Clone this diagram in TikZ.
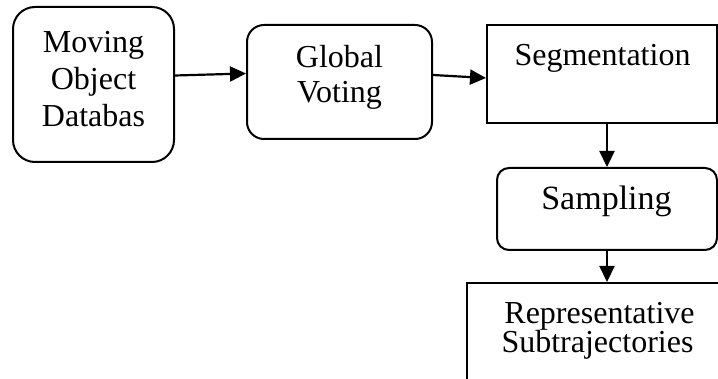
\documentclass[tikz,border=0pt]{standalone}
\usepackage{fontspec}
\setmainfont{Liberation Serif}
\usetikzlibrary{arrows.meta}
\begin{document}
\begin{tikzpicture}[x=1pt,y=-1pt,
  boxline/.style={draw=black,line width=2pt,inner sep=0pt},
  rbox/.style={boxline,rounded corners=#1},
  txt/.style={anchor=base,inner sep=0pt,font=\fontsize{32}{37}\selectfont},
  conn/.style={line width=2.2pt,-{Triangle[length=16pt,width=15pt]}}]
\useasboundingbox (0,0) rectangle (718,379);
\clip (0,0) rectangle (718,379);
% boxes
\node[rbox=22pt,minimum width=161pt,minimum height=155pt] (b1) at (93.5,84.5) {};
\node[rbox=17pt,minimum width=185pt,minimum height=114pt] (b2) at (339.5,82) {};
\node[boxline,minimum width=230pt,minimum height=98pt] (b3) at (602,74) {};
\node[rbox=12pt,minimum width=220pt,minimum height=82pt] (b4) at (607,209) {};
\node[boxline,minimum width=262pt,minimum height=117pt] (b5) at (598,341.5) {};
% texts
\node[txt] (t1a) at (93.5,53) {Moving};
\node[txt] (t1b) at (93.5,90) {Object};
\node[txt] (t1c) at (93.5,127) {Databas};
\node[txt] (t2a) at (339.5,68) {Global};
\node[txt] (t2b) at (339.5,103) {Voting};
\node[txt] (t3) at (602.5,66) {Segmentation};
\node[txt,font=\fontsize{34}{40}\selectfont] (t4) at (606.5,210) {Sampling};
\node[txt] (t5a) at (599.5,324) {Representative};
\node[txt] (t5b) at (597.5,353) {Subtrajectories};
% connectors
\draw[conn] ([yshift=9pt]b1.east) -- ([yshift=8.5pt]b2.west);
\draw[conn] ([yshift=7pt]b2.east) -- ([yshift=-4pt]b3.west);
\draw[conn] ([xshift=5pt]b3.south) -- (b4.north);
\draw[conn] (b4.south) -- ([xshift=9pt]b5.north);
\end{tikzpicture}
\end{document}
